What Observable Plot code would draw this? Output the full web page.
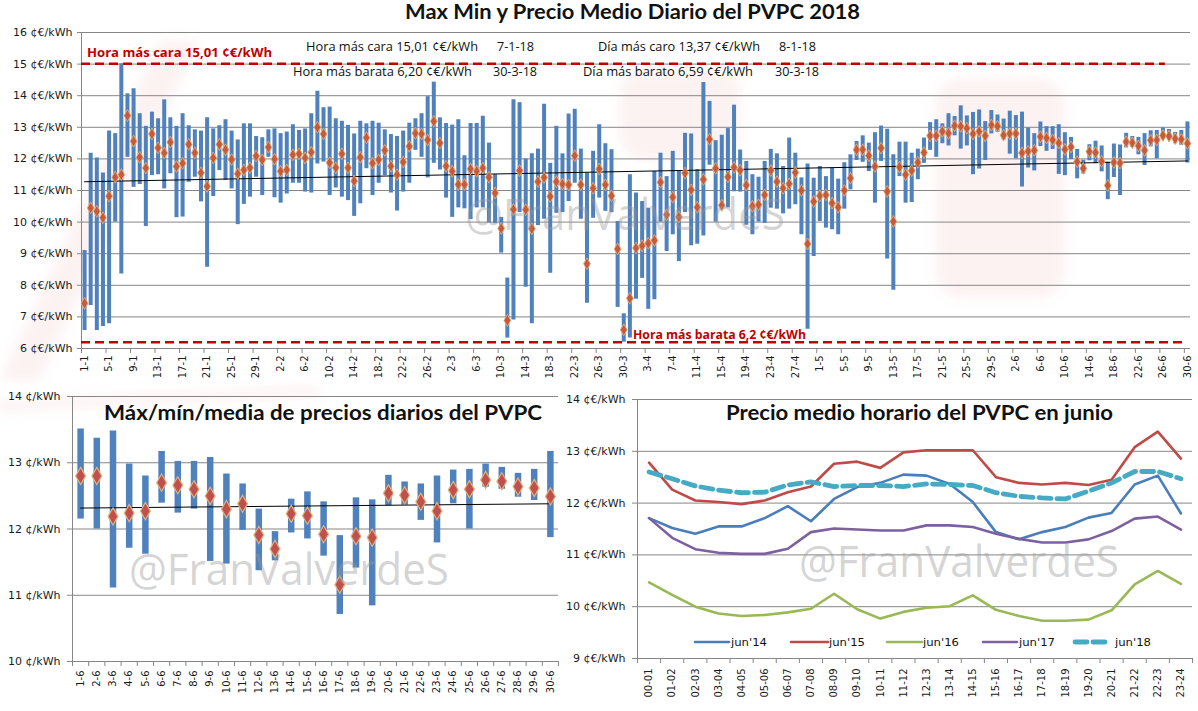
<!DOCTYPE html>
<html>
<head>
<meta charset="utf-8">
<script src="https://cdn.jsdelivr.net/npm/d3@7"></script>
<script src="https://cdn.jsdelivr.net/npm/@observablehq/plot@0.6"></script>
<style>
  body { margin: 0; background: #fff; }
  #page { position: relative; width: 1198px; height: 711px; overflow: hidden; background: #fff; }
  #page > svg, #page > figure { position: absolute; margin: 0; }
</style>
</head>
<body>
<div id="page"></div>
<script>
// ---- Daily PVPC prices, 1 Jan – 30 Jun 2018 (c€/kWh) ----
const dayMax = [
  9.10,12.18,12.03,11.55,12.88,12.80,15.01,14.06,14.22,13.43,13.03,13.48,13.27,13.87,13.30,13.03,13.43,13.05,12.92,12.88,13.30,12.95,13.05,13.24,12.88,12.60,13.11,13.11,12.71,12.67,12.92,
  12.95,12.80,12.85,13.08,12.90,12.95,13.43,14.14,13.62,13.64,13.27,13.19,13.06,12.79,13.19,13.11,13.19,13.13,12.92,12.77,12.71,12.88,13.13,13.27,13.43,13.97,14.43,13.30,
  13.12,13.07,13.24,12.10,13.12,13.12,13.35,12.50,11.50,10.15,8.23,13.87,13.78,12.00,12.16,12.31,13.73,11.86,13.03,12.16,13.42,13.57,12.31,11.55,12.24,13.08,12.48,12.29,10.02,7.10,11.50,
  10.92,10.65,10.44,11.60,12.18,11.44,12.24,11.60,12.81,12.79,11.66,14.42,13.82,12.58,12.75,12.96,13.70,12.28,11.92,11.50,11.42,11.92,12.30,12.16,11.76,12.66,12.18,11.40,11.84,11.39,
  11.76,11.44,11.71,11.36,11.88,12.13,12.55,12.73,12.50,12.83,13.04,12.94,12.13,12.53,12.53,12.18,12.31,12.66,13.15,13.24,13.11,13.43,13.34,13.68,13.36,13.47,13.55,13.18,13.53,13.39,13.26,
  13.51,13.37,13.48,12.98,12.80,13.17,13.02,13.02,13.08,12.83,12.68,12.30,11.96,12.45,12.56,12.41,11.90,12.47,12.44,12.81,12.71,12.68,12.80,12.89,12.90,12.98,12.93,12.84,12.90,13.17
];
const dayMin = [
  6.57,7.36,6.57,6.70,6.78,10.00,8.36,12.05,11.10,11.19,9.86,11.47,11.50,11.05,11.53,10.14,10.16,11.26,11.42,10.64,8.57,10.81,11.63,11.32,11.05,9.92,10.56,10.79,11.42,10.84,12.05,
  10.77,10.60,10.89,11.23,11.23,10.95,10.92,11.84,11.90,10.84,11.08,10.79,10.68,10.18,10.58,11.69,10.84,11.23,11.47,10.92,10.35,10.95,11.23,12.27,12.05,11.40,11.86,11.65,
  10.76,10.15,10.45,10.42,10.08,10.45,10.45,9.97,9.95,9.02,6.33,6.90,10.30,7.94,6.78,9.89,10.09,8.38,10.28,10.30,10.65,11.23,10.09,7.43,10.12,10.76,10.34,10.30,7.30,6.20,6.33,
  7.56,8.22,7.24,7.54,10.00,9.07,9.60,8.75,10.30,9.25,9.30,9.56,11.80,10.00,10.50,10.45,10.96,10.95,9.90,9.60,10.00,9.96,10.44,10.41,10.26,10.41,10.55,9.60,6.61,8.91,
  10.02,9.81,9.76,9.60,10.41,11.02,11.95,11.89,11.60,10.60,11.92,8.83,7.84,11.44,10.60,10.62,11.34,11.86,12.27,12.05,12.48,12.41,12.73,12.31,12.41,11.50,11.68,11.95,12.79,12.84,12.60,
  12.15,12.00,11.11,11.71,11.62,12.39,12.24,12.30,11.51,11.47,11.98,11.37,11.52,11.94,11.85,11.59,10.71,11.41,10.84,12.35,12.36,12.13,11.79,12.38,12.00,12.63,12.60,12.48,12.43,11.87
];
const dayMean = [
  7.43,10.45,10.34,10.14,10.82,11.42,11.50,13.37,12.56,12.05,11.71,12.79,12.35,12.19,12.53,11.76,11.86,12.46,12.19,11.56,11.13,12.03,12.46,12.29,11.98,11.53,11.65,11.72,12.09,11.97,12.37,
  11.99,11.61,11.65,12.13,12.16,12.03,12.21,13.00,12.79,11.88,11.72,12.16,11.72,11.30,12.05,12.67,11.86,11.97,12.27,11.77,11.50,11.90,12.40,12.81,12.79,12.60,13.19,12.50,
  11.77,11.61,11.19,11.19,11.68,11.61,11.71,11.42,10.92,9.80,6.89,10.40,11.63,10.39,9.79,11.28,11.41,10.81,11.28,11.20,11.18,12.10,11.18,8.68,11.07,11.68,11.18,10.83,9.15,6.59,7.59,
  9.18,9.25,9.33,9.42,11.26,10.23,10.79,10.16,11.55,11.02,10.47,11.35,12.62,11.70,10.53,11.43,11.73,11.64,11.17,10.50,10.55,10.86,11.63,11.28,11.07,11.21,11.57,11.00,9.31,10.65,
  10.83,10.86,10.60,10.47,11.00,11.39,12.29,12.29,12.10,11.76,12.34,10.97,10.02,11.74,11.50,11.63,11.89,12.20,12.73,12.73,12.87,12.81,13.05,13.03,12.97,12.79,12.87,12.73,13.07,13.03,12.75,
  12.80,12.80,12.19,12.24,12.27,12.70,12.66,12.60,12.50,12.30,12.38,11.91,11.70,12.23,12.20,11.92,11.16,11.89,11.87,12.54,12.51,12.41,12.27,12.59,12.60,12.74,12.72,12.64,12.62,12.49
];

// ---- Average hourly price in June, by year (c€/kWh) ----
const hourLabels = ["00-01","01-02","02-03","03-04","04-05","05-06","06-07","07-08","08-09","09-10","10-11","11-12",
                    "12-13","13-14","14-15","15-16","16-17","17-18","18-19","19-20","20-21","21-22","22-23","23-24"];
const seriesNames = ["jun'14","jun'15","jun'16","jun'17","jun'18"];
const jun14 = [11.71,11.52,11.41,11.55,11.55,11.71,11.94,11.65,12.08,12.31,12.39,12.55,12.53,12.37,12.02,11.44,11.30,11.44,11.54,11.72,11.81,12.36,12.53,11.80];
const jun15 = [12.78,12.26,12.05,12.02,11.98,12.05,12.21,12.32,12.76,12.80,12.68,12.98,13.02,13.02,13.02,12.50,12.39,12.36,12.39,12.35,12.45,13.08,13.38,12.86];
const jun16 = [10.47,10.23,10.00,9.87,9.82,9.84,9.89,9.96,10.25,9.95,9.77,9.90,9.98,10.01,10.22,9.94,9.82,9.73,9.73,9.75,9.93,10.43,10.69,10.44];
const jun17 = [11.71,11.33,11.11,11.04,11.02,11.02,11.12,11.44,11.51,11.49,11.47,11.47,11.57,11.57,11.54,11.41,11.31,11.24,11.24,11.30,11.46,11.70,11.74,11.49];
const jun18 = [12.60,12.47,12.33,12.25,12.20,12.21,12.35,12.41,12.32,12.34,12.34,12.32,12.37,12.36,12.34,12.20,12.13,12.10,12.08,12.23,12.39,12.61,12.61,12.47];

// ---- derived tables ----
const dayDates = d3.utcDay.range(new Date(Date.UTC(2018, 0, 1)), new Date(Date.UTC(2018, 6, 1)));
const dayLabels = dayDates.map(d3.utcFormat("%-d-%-m"));
const days = dayLabels.map((label, i) => ({i, label, max: dayMax[i], min: dayMin[i], mean: dayMean[i]}));
const juneStart = dayLabels.indexOf("1-6");
const june = days.slice(juneStart).map((d, k) => ({...d, n: k + 1}));
const hourValues = [jun14, jun15, jun16, jun17, jun18];
const hourRows = seriesNames.flatMap((name, s) => hourValues[s].map((v, h) => ({name, h, v})));

const comma = (v, digits) => d3.format(`.${digits}f`)(v).replace(".", ",");
const shortDate = d3.utcFormat("%-d-%-m-%y");
const iHourMax = d3.maxIndex(dayMax), iHourMin = d3.minIndex(dayMin);
const iDayMax = d3.maxIndex(dayMean), iDayMin = d3.minIndex(dayMean);
const hourMax = dayMax[iHourMax], hourMin = dayMin[iHourMin];

const GRID = "#868686";
const BAR = "#4f81bd";
const RED = "#c00000";
const lineColors = ["#4a7ebb", "#be4b48", "#98b954", "#7d60a0", "#46aac5"];
const baseStyle = {fontFamily: "DejaVu Sans, sans-serif", fontSize: "10px", color: "#1a1a1a", background: "transparent", overflow: "visible"};

const page = document.getElementById("page");
function place(node, left, top, z) {
  node.style.left = left + "px";
  node.style.top = top + "px";
  node.style.zIndex = z;
  page.appendChild(node);
}

// ---- faint background logo ----
const backdrop = d3.create("svg").attr("width", 1198).attr("height", 711);
const soft = backdrop.append("defs").append("filter").attr("id", "soft");
soft.append("feGaussianBlur").attr("stdDeviation", 6);
const logo = backdrop.append("g").attr("filter", "url(#soft)").attr("fill", "#e8a0a0").attr("fill-opacity", 0.14);
logo.append("rect").attr("x", 935).attr("y", 78).attr("width", 130).attr("height", 220).attr("rx", 28);
logo.append("rect").attr("x", 620).attr("y", 70).attr("width", 120).attr("height", 90).attr("rx", 24);
logo.append("path").attr("d", "M0,380 L40,380 L200,40 L160,40 Z");
logo.append("path").attr("d", "M0,400 L320,386 L320,396 L0,412 Z");
place(backdrop.node(), 0, 0, 0);

// ---- Main chart: daily max / min bars with daily mean ----
const labelIdx = d3.range(0, dayLabels.length, 4);
const mainChart = Plot.plot({
  width: 1198, height: 385,
  marginLeft: 81, marginRight: 8, marginTop: 32, marginBottom: 37,
  style: baseStyle,
  x: {domain: [-0.5, dayLabels.length - 0.5], label: null},
  y: {domain: [6, 16], label: null},
  marks: [
    Plot.gridY({ticks: d3.range(6, 17), stroke: GRID, strokeOpacity: 1}),
    Plot.axisY({ticks: d3.range(6, 17), tickFormat: d => `${d} ¢€/kWh`, tickSize: 4, tickPadding: 5, stroke: GRID, fontSize: 11}),
    Plot.axisX({ticks: labelIdx.map(i => i - 0.5), tickFormat: () => "", tickSize: 5, stroke: GRID}),
    Plot.axisX({ticks: labelIdx, tickFormat: i => dayLabels[i], tickSize: 0, tickPadding: 7, tickRotate: -90, fontSize: 10}),
    Plot.ruleX([-0.5], {stroke: GRID}),
    Plot.ruleY([6], {stroke: GRID}),
    Plot.ruleY([hourMax], {x1: -0.5, x2: 176.4, stroke: RED, strokeWidth: 2.5, strokeDasharray: "9,5"}),
    Plot.ruleY([hourMin], {x1: -0.5, x2: 179.4, stroke: RED, strokeWidth: 2.5, strokeDasharray: "9,5"}),
    Plot.ruleX(days, {x: "i", y1: "min", y2: "max", stroke: BAR, strokeWidth: 4}),
    Plot.linearRegressionY(days, {x: "i", y: "mean", stroke: "#000", strokeWidth: 1, ci: 0}),
    Plot.dot(days, {x: "i", y: "mean", symbol: "diamond", r: 3.6, fill: "#c55a3c", stroke: "#e2b07a", strokeWidth: 0.9})
  ]
});
place(mainChart, 0, 0, 1);

// ---- June detail: max / min / mean per day ----
const juneChart = Plot.plot({
  width: 600, height: 326,
  marginLeft: 72, marginRight: 42, marginTop: 11, marginBottom: 50,
  style: baseStyle,
  x: {domain: [0.5, june.length + 0.5], label: null},
  y: {domain: [10, 14], label: null},
  marks: [
    Plot.gridY({ticks: d3.range(10, 15), stroke: GRID, strokeOpacity: 1}),
    Plot.axisY({ticks: d3.range(10, 15), tickFormat: d => `${d} ¢/kWh`, tickSize: 5, tickPadding: 7, stroke: GRID, fontSize: 11}),
    Plot.axisX({ticks: d3.range(0.5, june.length + 1), tickFormat: () => "", tickSize: 5, stroke: GRID}),
    Plot.axisX({ticks: june.map(d => d.n), tickFormat: n => june[n - 1].label, tickSize: 0, tickPadding: 9, tickRotate: -90, fontSize: 10}),
    Plot.ruleX([0.5], {stroke: GRID}),
    Plot.ruleY([10], {stroke: GRID}),
    Plot.ruleX(june, {x: "n", y1: "min", y2: "max", stroke: BAR, strokeWidth: 6.5}),
    Plot.linearRegressionY(june, {x: "n", y: "mean", stroke: "#000", strokeWidth: 1, ci: 0}),
    Plot.dot(june, {x: "n", y: "mean", symbol: "diamond", r: 5.2, fill: "#c0504d", stroke: "#e0b37c", strokeWidth: 1.2})
  ]
});
place(juneChart, 0, 385, 1);

// ---- Hourly profile of June, 2014–2018 ----
const hourChart = Plot.plot({
  width: 638, height: 326,
  marginLeft: 77, marginRight: 6, marginTop: 14, marginBottom: 53,
  style: baseStyle,
  x: {domain: [-0.5, hourLabels.length - 0.5], label: null},
  y: {domain: [9, 14], label: null},
  color: {domain: seriesNames, range: lineColors},
  marks: [
    Plot.gridY({ticks: d3.range(9, 15), stroke: GRID, strokeOpacity: 1}),
    Plot.axisY({ticks: d3.range(9, 15), tickFormat: d => `${d} ¢€/kWh`, tickSize: 5, tickPadding: 7, stroke: GRID, fontSize: 11}),
    Plot.axisX({ticks: d3.range(-0.5, hourLabels.length), tickFormat: () => "", tickSize: 5, stroke: GRID}),
    Plot.axisX({ticks: d3.range(hourLabels.length), tickFormat: h => hourLabels[h], tickSize: 0, tickPadding: 10, tickRotate: -90, fontSize: 10}),
    Plot.ruleX([-0.5], {stroke: GRID}),
    Plot.ruleY([9], {stroke: GRID}),
    Plot.line(hourRows.filter(d => d.name !== "jun'18"), {x: "h", y: "v", z: "name", stroke: "name", strokeWidth: 2.6}),
    Plot.line(hourRows.filter(d => d.name === "jun'18"), {x: "h", y: "v", stroke: "name", strokeWidth: 4.8, strokeDasharray: "12,6", strokeLinecap: "round"})
  ]
});
place(hourChart, 560, 385, 1);

// ---- Titles, notes, legend and watermark ----
const overlay = d3.create("svg").attr("width", 1198).attr("height", 711).style("pointer-events", "none");
function note(t) {
  overlay.append("text")
    .attr("x", t.x).attr("y", t.y)
    .attr("font-family", t.family || "Open Sans, sans-serif")
    .attr("font-size", t.size)
    .attr("font-weight", t.weight || 400)
    .attr("fill", t.fill || "#111")
    .attr("fill-opacity", t.opacity == null ? 1 : t.opacity)
    .attr("textLength", t.len)
    .attr("lengthAdjust", "spacingAndGlyphs")
    .text(t.text);
}
// watermark
const mark = "@FranValverdeS";
[[465, 230], [129, 585], [799, 577]].forEach(([x, y]) =>
  note({x, y, text: mark, size: 43, len: 320, fill: "#9a9a9a", opacity: 0.42, family: "Open Sans, sans-serif"}));

// titles
note({x: 405, y: 19, text: "Max Min y Precio Medio Diario del PVPC 2018", size: 20, weight: 700, len: 455, family: "Lato, sans-serif"});
note({x: 104, y: 420, text: "Máx/mín/media de precios diarios del PVPC", size: 20, weight: 700, len: 438, family: "Lato, sans-serif"});
note({x: 726, y: 420, text: "Precio medio horario del PVPC en junio", size: 20, weight: 700, len: 387, family: "Lato, sans-serif"});

// record notes
note({x: 87, y: 56.5, text: `Hora más cara ${comma(hourMax, 2)}  ¢€/kWh`, size: 13, weight: 700, fill: RED, len: 185});
note({x: 633, y: 339, text: `Hora más barata ${d3.format("~g")(hourMin).replace(".", ",")} ¢€/kWh`, size: 13, weight: 700, fill: RED, len: 173});
note({x: 306, y: 51, text: `Hora más cara  ${comma(hourMax, 2)} ¢€/kWh`, size: 12.5, len: 172});
note({x: 497, y: 51, text: shortDate(dayDates[iHourMax]), size: 12.5, len: 37});
note({x: 598, y: 51, text: `Día más caro  ${comma(dayMean[iDayMax], 2)} ¢€/kWh`, size: 12.5, len: 162});
note({x: 779, y: 51, text: shortDate(dayDates[iDayMax]), size: 12.5, len: 37});
note({x: 293, y: 75.5, text: `Hora más barata  ${comma(hourMin, 2)} ¢€/kWh`, size: 12.5, len: 179});
note({x: 493, y: 75.5, text: shortDate(dayDates[iHourMin]), size: 12.5, len: 44});
note({x: 583, y: 75.5, text: `Día más barato  ${comma(dayMean[iDayMin], 2)} ¢€/kWh`, size: 12.5, len: 170});
note({x: 775, y: 75.5, text: shortDate(dayDates[iDayMin]), size: 12.5, len: 44});

// legend of the hourly chart
const legendItems = [[695, 729, 731], [791, 828, 829], [887, 922, 923], [983, 1017, 1019], [1075, 1111, 1115]];
legendItems.forEach(([x1, x2, tx], s) => {
  const dashed = seriesNames[s] === "jun'18";
  overlay.append("line")
    .attr("x1", x1).attr("x2", x2).attr("y1", 642).attr("y2", 642)
    .attr("stroke", lineColors[s]).attr("stroke-width", dashed ? 4.8 : 2.6)
    .attr("stroke-dasharray", dashed ? "12,6" : null).attr("stroke-linecap", "round");
  note({x: tx, y: 646, text: seriesNames[s], size: 11, len: 36, family: "DejaVu Sans, sans-serif"});
});
place(overlay.node(), 0, 0, 2);
</script>
</body>
</html>
